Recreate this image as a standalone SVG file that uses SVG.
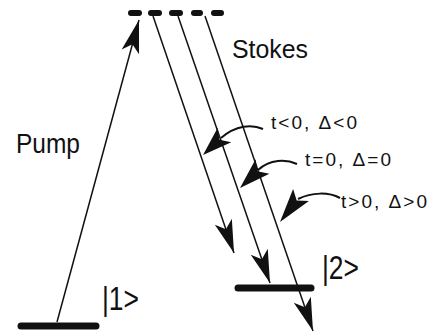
<svg xmlns="http://www.w3.org/2000/svg" width="435" height="333" viewBox="0 0 435 333">
<style>
.lvl{stroke:#111;stroke-width:7;stroke-linecap:round;fill:none}
.dash{stroke:#111;stroke-width:6;stroke-linecap:round;fill:none}
.ln{stroke:#111;stroke-width:1.5;fill:none}
.ptr{stroke:#111;stroke-width:2;fill:none}
.head{fill:#111;stroke:none}
text{font-family:"Liberation Sans",Arial,sans-serif;fill:#111}
</style>
<defs>
<marker id="ah" markerUnits="userSpaceOnUse" viewBox="-34 -10 40 20" markerWidth="40" markerHeight="20" refX="0" refY="0" orient="auto" overflow="visible">
<path d="M0,0 L-33,-9 L-25,0 L-33,9 Z" fill="#111"/>
</marker>
</defs>
<g id="level1"><line class="lvl" x1="21" y1="326" x2="96" y2="326"/></g>
<g id="level2"><line class="lvl" x1="238" y1="288" x2="311" y2="288"/></g>
<g id="virtual">
<line class="dash" x1="131" y1="13" x2="139" y2="13"/>
<line class="dash" x1="151" y1="13" x2="159" y2="13"/>
<line class="dash" x1="172" y1="13" x2="180" y2="13"/>
<line class="dash" x1="194" y1="13" x2="200" y2="13"/>
<line class="dash" x1="214" y1="13" x2="221" y2="13"/>
</g>
<g id="connectors">
<line class="ln" x1="57" y1="322" x2="139" y2="20" marker-end="url(#ah)"/>
<line class="ln" x1="153" y1="16" x2="234" y2="253" marker-end="url(#ah)"/>
<line class="ln" x1="178" y1="16" x2="270" y2="283" marker-end="url(#ah)"/>
<line class="ln" x1="205" y1="16" x2="313" y2="331" marker-end="url(#ah)"/>
<path class="ptr" d="M263,129 C252,124 236,125 221,138"/>
<polygon class="head" points="203,155 217.7,127.7 219.4,139.8 231.3,142.3"/>
<path class="ptr" d="M297,164 C286,159 270,159 258,170"/>
<polygon class="head" points="240,188 255.6,159.3 257.4,171.3 269.4,173.7"/>
<path class="ptr" d="M340,198 C329,192 312,192 298,199"/>
<polygon class="head" points="280,222 293.1,188.9 296.7,200.5 308.9,201.1"/>
</g>
<g id="label-pump"><text x="16" y="153" font-size="28" textLength="64" lengthAdjust="spacingAndGlyphs">Pump</text></g>
<g id="label-stokes"><text x="232" y="58" font-size="26" textLength="76" lengthAdjust="spacingAndGlyphs">Stokes</text></g>
<g id="label-tneg"><text x="271" y="129" font-size="19" textLength="86">t&lt;0, Δ&lt;0</text></g>
<g id="label-tzero"><text x="305" y="166" font-size="19" textLength="86">t=0, Δ=0</text></g>
<g id="label-tpos"><text x="341" y="208" font-size="19" textLength="86">t&gt;0, Δ&gt;0</text></g>
<g id="state1"><text transform="translate(102,310) scale(1,1.12)" font-size="30" textLength="37" lengthAdjust="spacingAndGlyphs">|1&gt;</text></g>
<g id="state2"><text transform="translate(322,279) scale(1,1.12)" font-size="30" textLength="37" lengthAdjust="spacingAndGlyphs">|2&gt;</text></g>
</svg>
